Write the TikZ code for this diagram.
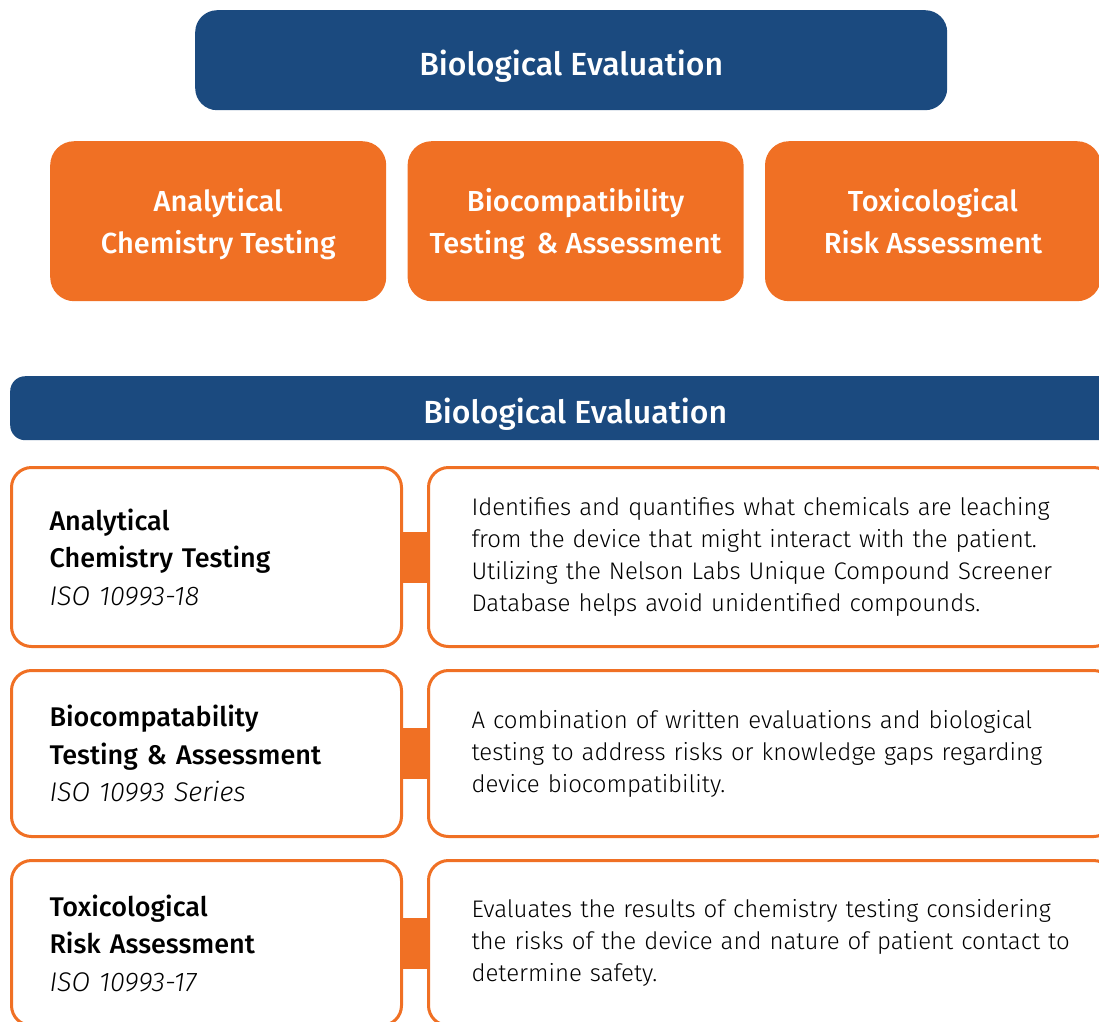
\documentclass[tikz,border=0pt]{standalone}
\usepackage{fontspec}
\setmainfont{Fira Sans}[BoldFont={Fira Sans Medium}]
\newfontfamily\lightfont{Fira Sans Light}
\usetikzlibrary{positioning}

\definecolor{nlblue}{HTML}{1B4A7F}
\definecolor{nlorange}{HTML}{F07024}

\tikzset{
  headbar/.style={fill=nlblue, text=white, inner sep=0pt, text height=31pt, text depth=0pt,
    font=\fontsize{32}{36}\selectfont\bfseries},
  topbox/.style={fill=nlorange, text=white, rounded corners=24pt, align=center,
    minimum width=336, minimum height=160, inner sep=0pt, text depth=0pt,
    font=\fontsize{29}{42}\selectfont\bfseries},
  leftbox/.style={draw=nlorange, line width=3pt, rounded corners=20pt, fill=white,
    minimum width=390, text width=314, inner xsep=38pt, align=left,
    font=\fontsize{27}{37.5}\selectfont},
  descbox/.style={draw=nlorange, line width=3pt, rounded corners=20pt, fill=white,
    minimum width=685, text width=599, inner xsep=42pt, align=left,
    font=\lightfont\fontsize{24}{32}\selectfont},
  link/.style={draw=nlorange, line width=51pt},
}

\begin{document}
\begin{tikzpicture}[x=1pt,y=1pt,yscale=-1]
\useasboundingbox (0,0) rectangle (1099,1021);
\clip (0,0) rectangle (1099,1021);

% header with the three disciplines
\node[headbar, rounded corners=22pt, minimum width=752, minimum height=100, anchor=north west]
  (eval) at (195,10) {Biological Evaluation};
\node[topbox, anchor=north west] (chem) at (50,141) {Analytical\\Chemistry Testing};
\node[topbox, right=21pt of chem] (bio) {Biocompatibility\\Testing \,\& Assessment};
\node[topbox, right=21pt of bio] (tox) {Toxicological\\Risk Assessment};

% table part
\node[headbar, rounded corners=15pt, minimum width=1130, minimum height=64, anchor=north west]
  (evalbar) at (10,376) {Biological Evaluation};

\node[leftbox, minimum height=179, anchor=north west] (chemrow) at (10,466)
  {{\bfseries Analytical\\Chemistry Testing}\\{\lightfont\itshape ISO 10993-18}};
\node[descbox, minimum height=179, right=24pt of chemrow] (chemtxt)
  {Identifies and quantifies what chemicals are leaching\\
   from the device that might interact with the patient.\\
   Utilizing the Nelson Labs Unique Compound Screener\\
   Database helps avoid unidentified compounds.};

\node[leftbox, minimum height=166, below=21pt of chemrow] (biorow)
  {{\bfseries Biocompatability\\Testing \& Assessment}\\{\lightfont\itshape ISO 10993 Series}};
\node[descbox, minimum height=166, right=24pt of biorow] (biotxt)
  {A combination of written evaluations and biological\\
   testing to address risks or knowledge gaps regarding\\
   device biocompatibility.};

\node[leftbox, minimum height=165, below=21pt of biorow] (toxrow)
  {{\bfseries Toxicological\\Risk Assessment}\\{\lightfont\itshape ISO 10993-17}};
\node[descbox, minimum height=165, right=24pt of toxrow] (toxtxt)
  {Evaluates the results of chemistry testing considering\\
   the risks of the device and nature of patient contact to\\
   determine safety.};

% orange links between the columns
\draw[link] (chemrow) -- (chemtxt);
\draw[link] (biorow) -- (biotxt);
\draw[link] (toxrow) -- (toxtxt);
\end{tikzpicture}
\end{document}
